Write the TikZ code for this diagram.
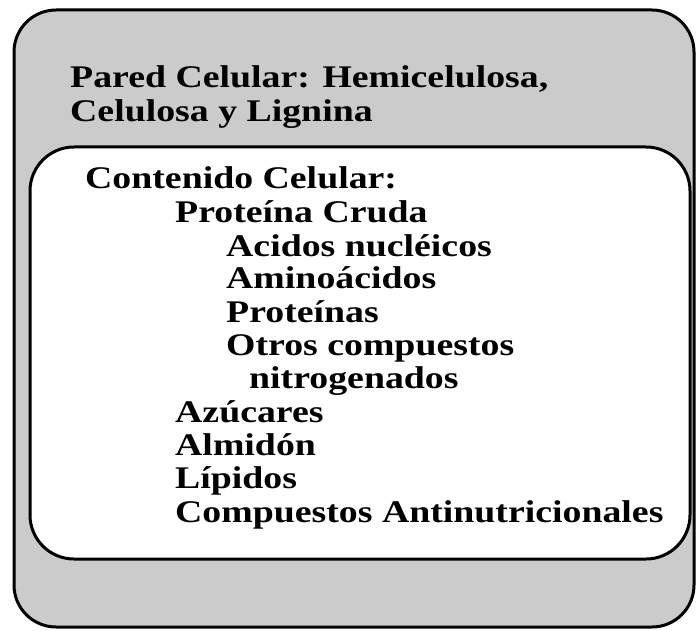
\documentclass[tikz,border=0pt]{standalone}
\usepackage{fontspec}
\setmainfont{Liberation Serif}[FakeStretch=1.2]
\definecolor{wallgray}{HTML}{CBCBCB}
\begin{document}
\begin{tikzpicture}[x=1bp,y=-1bp,
  box/.style={draw=black,line width=3bp},
  txt/.style={anchor=base west,inner sep=0pt,font=\fontsize{31.5bp}{34bp}\selectfont\bfseries}]
\useasboundingbox (0,0) rectangle (696,631);
\draw[box,fill=wallgray,rounded corners=42bp] (14,10) rectangle (694,627);
\draw[box,fill=white,rounded corners=44bp] (30,147) rectangle (690,559);
\node[txt] (pared) at (70,88) {Pared Celular: Hemicelulosa,};
\node[txt] (celulosa) at (70,122) {Celulosa y Lignina};
\node[txt] (contenido) at (85,189) {Contenido Celular:};
\node[txt] (proteina) at (175,222) {Proteína Cruda};
\node[txt] (acidos) at (226,256) {Acidos nucléicos};
\node[txt] (amino) at (226,288) {Aminoácidos};
\node[txt] (proteinas) at (226,322) {Proteínas};
\node[txt] (otros) at (226,355) {Otros compuestos};
\node[txt] (nitro) at (249,388) {nitrogenados};
\node[txt] (azucares) at (175,422) {Azúcares};
\node[txt] (almidon) at (175,455) {Almidón};
\node[txt] (lipidos) at (175,488) {Lípidos};
\node[txt] (compuestos) at (175,522) {Compuestos Antinutricionales};
\end{tikzpicture}
\end{document}
